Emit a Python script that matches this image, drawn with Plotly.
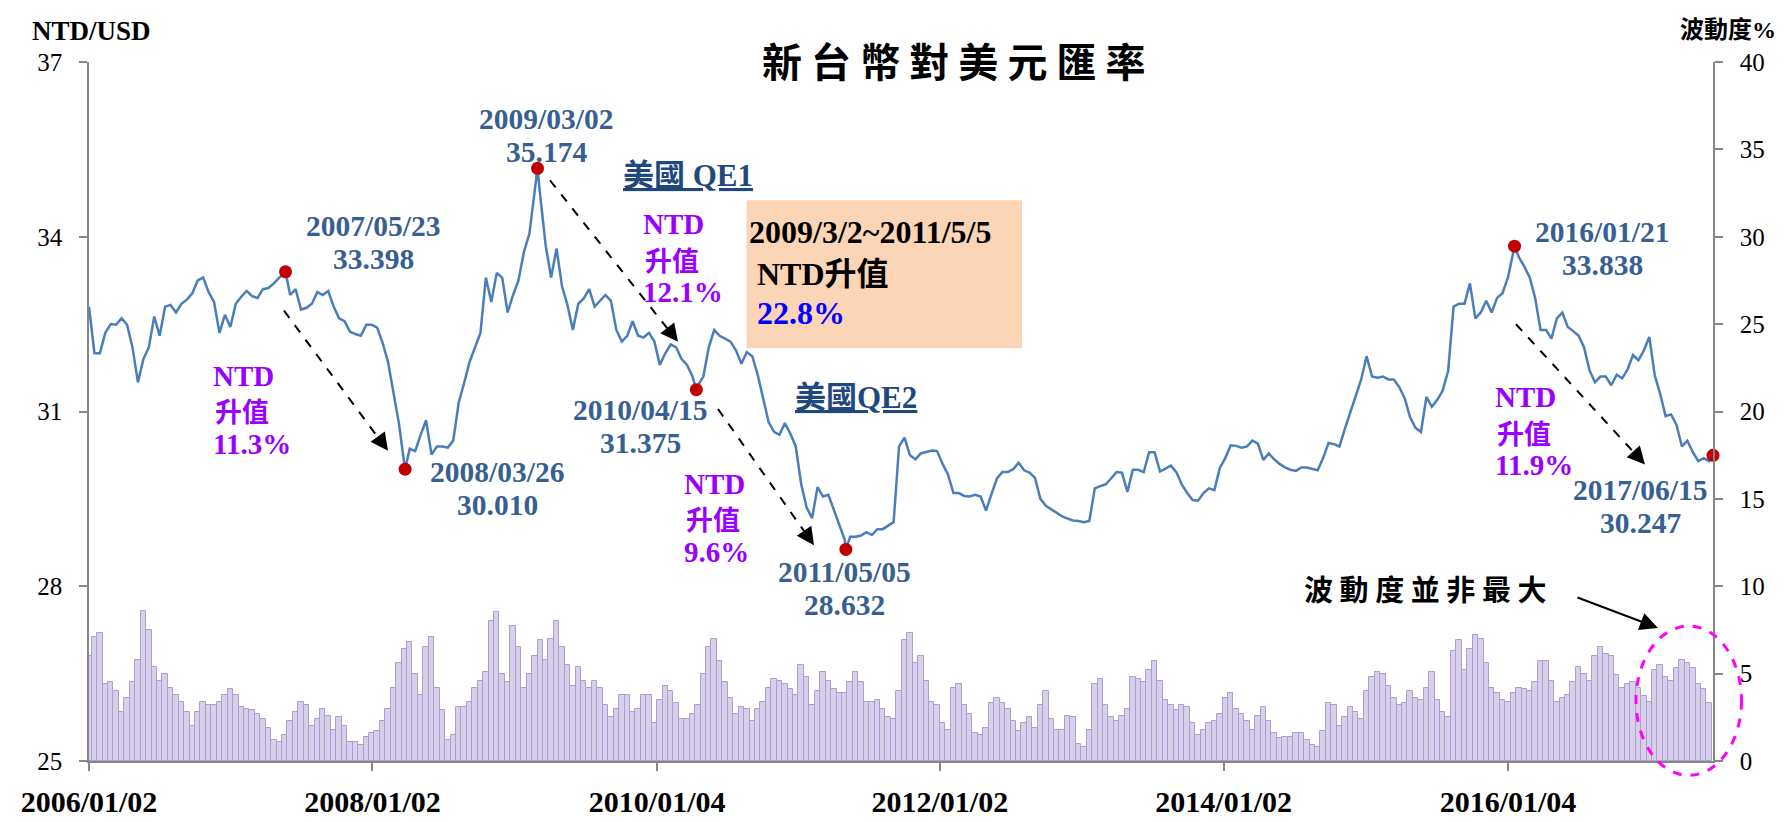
import pandas as pd
import plotly.graph_objects as go

# ---------------- data ----------------
# NTD/USD rate, sampled every 14 calendar days from 2006-01-02
rate_values = [
    32.8, 32.0, 32.0, 32.35, 32.5, 32.49, 32.6, 32.49, 32.1, 31.5,
    31.9, 32.1, 32.63, 32.3, 32.8, 32.83, 32.7, 32.85, 32.92, 33.03,
    33.25, 33.3, 33.05, 32.88, 32.35, 32.66, 32.45, 32.85, 32.97, 33.07,
    32.98, 32.95, 33.1, 33.12, 33.2, 33.3, 33.38, 33.0, 33.1, 32.75,
    32.78, 32.85, 33.05, 33.0, 33.07, 32.8, 32.6, 32.55, 32.37, 32.33,
    32.3, 32.49, 32.49, 32.44, 32.18, 31.85, 31.3, 30.8, 30.1, 30.36,
    30.32, 30.6, 30.85, 30.26, 30.4, 30.4, 30.38, 30.5, 31.15, 31.49,
    31.85, 32.1, 32.35, 33.3, 32.88, 33.38, 33.3, 32.7, 33.0, 33.25,
    33.74, 34.05, 34.85, 34.7, 33.85, 33.3, 33.8, 33.15, 32.83, 32.4,
    32.85, 32.94, 33.1, 32.8, 32.9, 33.0, 32.9, 32.4, 32.2, 32.3,
    32.55, 32.3, 32.27, 32.35, 32.2, 31.8, 32.0, 32.15, 32.1, 31.9,
    31.8, 31.6, 31.45, 31.6, 32.1, 32.4, 32.3, 32.25, 32.2, 32.05,
    31.82, 32.02, 31.95, 31.63, 31.2, 30.82, 30.65, 30.6, 30.8, 30.62,
    30.4, 29.75, 29.35, 29.17, 29.7, 29.54, 29.57, 29.3, 29.04, 28.8,
    28.85, 28.85, 28.87, 28.93, 28.88, 28.98, 28.98, 29.04, 29.1, 30.4,
    30.55, 30.25, 30.18, 30.28, 30.3, 30.33, 30.32, 30.1, 29.92, 29.6,
    29.6, 29.55, 29.54, 29.57, 29.54, 29.3, 29.58, 29.85, 29.96, 29.96,
    30.01, 30.12, 29.99, 29.95, 29.86, 29.5, 29.38, 29.32, 29.25, 29.2,
    29.16, 29.13, 29.12, 29.1, 29.12, 29.68, 29.72, 29.75, 29.85, 29.96,
    29.95, 29.62, 30.0, 30.0, 29.96, 30.3, 30.3, 29.97, 30.02, 30.07,
    29.96, 29.75, 29.6, 29.48, 29.47, 29.6, 29.68, 29.65, 30.03, 30.2,
    30.42, 30.41, 30.38, 30.4, 30.5, 30.45, 30.17, 30.28, 30.18, 30.1,
    30.04, 30.0, 29.98, 30.04, 30.04, 30.01, 29.99, 30.2, 30.46, 30.44,
    30.4, 30.7, 30.99, 31.25, 31.55, 31.95, 31.6, 31.58, 31.6, 31.55,
    31.55, 31.42, 31.23, 30.9, 30.72, 30.65, 31.25, 31.08, 31.2, 31.36,
    31.7, 32.8, 32.85, 32.85, 33.2, 32.6, 32.7, 32.9, 32.7, 32.95,
    33.03, 33.3, 33.8, 33.65, 33.49, 33.3, 32.95, 32.4, 32.4, 32.25,
    32.6, 32.7, 32.45, 32.38, 32.3, 32.1, 31.71, 31.5, 31.6, 31.6,
    31.45, 31.63, 31.57, 31.72, 31.97, 31.88, 32.05, 32.28, 31.62, 31.3,
    30.92, 30.95, 30.77, 30.4, 30.5, 30.3, 30.15, 30.2, 30.15,
]

# volatility (%), same 14-day grid
vol_values = [
    6.0, 7.1, 7.35, 4.4, 4.5, 4.0, 2.8, 3.6, 4.5, 5.8,
    8.6, 7.5, 5.4, 4.6, 5.0, 4.2, 3.8, 3.4, 2.8, 2.0,
    2.8, 3.4, 3.2, 3.2, 3.4, 3.8, 4.1, 3.8, 3.1, 3.0,
    2.9, 2.7, 2.4, 1.9, 1.2, 1.1, 1.5, 2.3, 2.8, 3.4,
    3.2, 2.0, 2.4, 3.0, 2.6, 1.8, 2.5, 2.0, 1.1, 1.1,
    0.9, 1.4, 1.6, 1.7, 2.3, 3.0, 4.2, 5.6, 6.4, 6.8,
    5.0, 3.8, 6.5, 7.1, 4.2, 2.9, 1.2, 1.5, 3.1, 3.1,
    3.4, 4.2, 4.6, 5.1, 8.0, 8.5, 5.0, 4.5, 7.7, 6.5,
    4.2, 5.0, 6.0, 6.9, 5.8, 7.0, 8.0, 6.5, 5.5, 4.3,
    5.4, 4.6, 4.2, 4.6, 4.2, 3.2, 2.5, 3.0, 3.8, 3.8,
    2.8, 3.0, 3.8, 3.8, 2.2, 3.5, 4.3, 4.0, 3.3, 2.4,
    2.4, 2.7, 3.2, 5.0, 6.5, 7.0, 5.7, 4.5, 3.6, 2.7,
    3.1, 3.0, 2.3, 3.0, 3.4, 4.2, 4.7, 4.6, 4.4, 4.1,
    3.8, 5.5, 4.8, 3.2, 4.0, 5.1, 4.6, 4.1, 3.9, 3.9,
    4.5, 5.1, 4.5, 3.4, 3.4, 3.5, 3.0, 2.5, 2.4, 4.0,
    6.9, 7.3, 5.6, 6.0, 4.6, 3.4, 3.2, 2.2, 1.8, 4.2,
    4.4, 3.2, 2.7, 1.6, 1.5, 1.9, 3.3, 3.6, 3.3, 3.0,
    2.3, 1.7, 2.2, 2.5, 1.9, 3.2, 4.0, 2.4, 1.8, 1.8,
    2.6, 2.5, 1.0, 0.8, 1.8, 4.4, 4.7, 3.2, 2.5, 2.3,
    2.6, 3.0, 4.8, 4.7, 4.5, 5.2, 5.7, 4.6, 3.5, 3.2,
    2.9, 3.2, 3.1, 2.2, 1.5, 1.8, 2.2, 2.3, 2.7, 3.6,
    3.9, 3.0, 2.7, 2.3, 1.8, 2.6, 3.1, 2.3, 1.6, 1.3,
    1.4, 1.4, 1.6, 1.6, 1.2, 0.9, 0.8, 1.7, 3.3, 3.2,
    2.0, 2.5, 3.1, 2.8, 2.4, 4.0, 4.8, 5.1, 5.0, 4.3,
    3.6, 3.2, 3.3, 4.0, 3.6, 3.5, 4.2, 5.1, 3.5, 2.8,
    2.5, 6.3, 6.9, 5.2, 6.4, 7.2, 7.0, 5.6, 4.2, 3.9,
    3.5, 3.4, 3.9, 4.2, 4.1, 4.0, 4.5, 5.7, 5.7, 4.6,
    3.4, 3.6, 3.8, 4.5, 5.4, 5.0, 4.6, 6.0, 6.5, 6.1,
    6.0, 4.9, 4.2, 4.4, 4.5, 4.2, 3.7, 3.4, 5.2, 5.5,
    4.8, 4.6, 5.3, 5.8, 5.6, 5.3, 4.4, 4.1, 3.3,
]

# marked turning points
mark_dates = ["2007-05-23", "2008-03-26", "2009-03-02", "2010-04-15",
              "2011-05-05", "2016-01-21", "2017-06-15"]
mark_values = [33.398, 30.010, 35.174, 31.375, 28.632, 33.838, 30.247]
mark_labels = ["2007/05/23", "2008/03/26", "2009/03/02", "2010/04/15",
               "2011/05/05", "2016/01/21", "2017/06/15"]

tick_dates = ["2006-01-02", "2008-01-02", "2010-01-04", "2012-01-02",
              "2014-01-02", "2016-01-04"]
tick_labels = ["2006/01/02", "2008/01/02", "2010/01/04", "2012/01/02",
               "2014/01/02", "2016/01/04"]

grid_dates = pd.date_range("2006-01-02", periods=len(rate_values), freq="14D")

line_df = pd.concat([
    pd.DataFrame({"date": grid_dates, "rate": rate_values}),
    pd.DataFrame({"date": pd.to_datetime(mark_dates), "rate": mark_values}),
]).sort_values("date")

# ---------------- figure ----------------
W, H = 1787, 822
L, R, T, B = 81, 1705, 53.5, 771.7


def px(x):
    return (x - L) / (R - L)


def py(y):
    return (B - y) / (B - T)


SERIF = "Liberation Serif, Noto Sans CJK TC"
CJK = "Noto Sans CJK TC, Liberation Serif"
AXIS_GRAY = "#868686"

fig = go.Figure()

fig.add_trace(go.Bar(
    x=grid_dates, y=vol_values, yaxis="y2",
    width=14 * 86400000,
    marker=dict(color="#D8D0EA", line=dict(color="#AC9ED0", width=1)),
    showlegend=False, hoverinfo="skip",
))

fig.add_trace(go.Scatter(
    x=line_df["date"], y=line_df["rate"], mode="lines",
    line=dict(color="#4A7EBB", width=2.5),
    showlegend=False,
))

fig.add_trace(go.Scatter(
    x=pd.to_datetime(mark_dates), y=mark_values, mode="markers",
    marker=dict(color="#C00000", size=13),
    showlegend=False, cliponaxis=False,
))

annotations = []
shapes = []


def text(s, x, y, size, color, xanchor="center", family=SERIF, bold=True):
    annotations.append(dict(
        text=f"<b>{s}</b>" if bold else s, x=px(x), y=py(y),
        xref="paper", yref="paper", xanchor=xanchor, yanchor="middle",
        showarrow=False, font=dict(family=family, size=size, color=color),
    ))


# title and axis titles
text("新 台 幣 對 美 元 匯 率", 946, 51, 40, "black", family=CJK)
text("NTD/USD", 83, 22, 27, "black")
text("波動度%", 1720, 21, 24, "black")

# point labels
BLUE = "#376092"
label_pos = [(365, 222), (489, 475), (538, 112), (632, 411),
             (836, 577), (1594, 228), (1632, 493)]
for lab, val, (lx, ly) in zip(mark_labels, mark_values, label_pos):
    text(lab, lx, ly, 29.5, BLUE)
    text(f"{val:.3f}", lx, ly + 34, 29.5, BLUE)

# purple appreciation notes
PURPLE = "#9A00FF"
for (bx, by, pct) in [(203, 376, "11.3%"), (633, 220, "12.1%"),
                      (674, 487, "9.6%"), (1485, 398, "11.9%")]:
    text("NTD", bx, by, 29, PURPLE, xanchor="left")
    text("升值", bx + 2, by + 36, 27, PURPLE, xanchor="left", family=CJK)
    text(pct, bx, by + 70, 29, PURPLE, xanchor="left")

# QE labels
QE = "#1F497D"
text("<u>美國 QE1</u>", 680, 170, 31, QE)
text("<u>美國QE2</u>", 848, 398, 31, QE)

# orange box
shapes.append(dict(type="rect", xref="paper", yref="paper",
                   x0=px(738.5), x1=px(1014), y0=py(347.7), y1=py(195.5),
                   fillcolor="#FBD5B5", line=dict(width=0), layer="below"))
text("2009/3/2~2011/5/5", 739, 228, 32, "black", xanchor="left")
text("NTD升值", 747, 271, 32, "black", xanchor="left")
text("22.8%", 747, 311, 32, "#0000FF", xanchor="left")

# dashed arrows
for (tx, ty, hx, hy) in [(276, 309, 380, 453), (542, 175, 670, 341),
                         (710, 410, 806, 550), (1508, 323, 1637, 467)]:
    dx, dy = hx - tx, hy - ty
    n = (dx * dx + dy * dy) ** 0.5
    ux, uy = dx / n, dy / n
    shapes.append(dict(type="line", xref="paper", yref="paper",
                       x0=px(tx), y0=py(ty), x1=px(hx - ux * 10), y1=py(hy - uy * 10),
                       line=dict(color="black", width=2, dash="dash")))
    annotations.append(dict(text="", x=px(hx), y=py(hy), xref="paper", yref="paper",
                            ax=-ux * 16, ay=-uy * 16, axref="pixel", ayref="pixel",
                            showarrow=True, arrowhead=2, arrowsize=2.2, arrowwidth=1.6,
                            arrowcolor="black"))

# volatility note + arrow + ellipse
text("波 動 度 並 非 最 大", 1417, 594, 29, "black", family=CJK)
annotations.append(dict(text="", x=px(1650), y=py(635), xref="paper", yref="paper",
                        ax=1568 - 1650, ay=604 - 635, axref="pixel", ayref="pixel",
                        showarrow=True, arrowhead=2, arrowsize=1.8, arrowwidth=2,
                        arrowcolor="black"))
shapes.append(dict(type="circle", xref="paper", yref="paper",
                   x0=px(1628), x1=px(1733.5), y0=py(786.5), y1=py(633),
                   line=dict(color="#FF00FF", width=3, dash="dash")))

fig.update_layout(
    width=W, height=H,
    margin=dict(l=L, r=W - R, t=T, b=H - B, pad=0),
    paper_bgcolor="white", plot_bgcolor="white",
    bargap=0,
    showlegend=False,
    annotations=annotations,
    shapes=shapes,
    xaxis=dict(
        type="date",
        range=["2006-01-02", "2017-06-15"],
        tickvals=tick_dates, ticktext=tick_labels,
        tickfont=dict(family="Liberation Serif", size=30, color="black", weight="bold"),
        showline=True, linecolor=AXIS_GRAY, linewidth=1.5,
        ticks="outside", ticklen=8, tickcolor=AXIS_GRAY, tickwidth=1.5,
        ticklabelstandoff=5,
        showgrid=False, zeroline=False,
    ),
    yaxis=dict(
        range=[25, 37], tickvals=[25, 28, 31, 34, 37],
        tickfont=dict(family="Liberation Serif", size=25, color="black"),
        showline=True, linecolor=AXIS_GRAY, linewidth=1.5,
        ticks="outside", ticklen=8, tickcolor=AXIS_GRAY, tickwidth=1.5,
        ticklabelstandoff=12,
        showgrid=False, zeroline=False,
    ),
    yaxis2=dict(
        overlaying="y", side="right",
        range=[0, 40], tickvals=[0, 5, 10, 15, 20, 25, 30, 35, 40],
        tickfont=dict(family="Liberation Serif", size=25, color="black"),
        showline=True, linecolor=AXIS_GRAY, linewidth=1.5,
        ticks="outside", ticklen=8, tickcolor=AXIS_GRAY, tickwidth=1.5,
        ticklabelstandoff=12,
        showgrid=False, zeroline=False,
    ),
)

fig.write_html("out.html")
